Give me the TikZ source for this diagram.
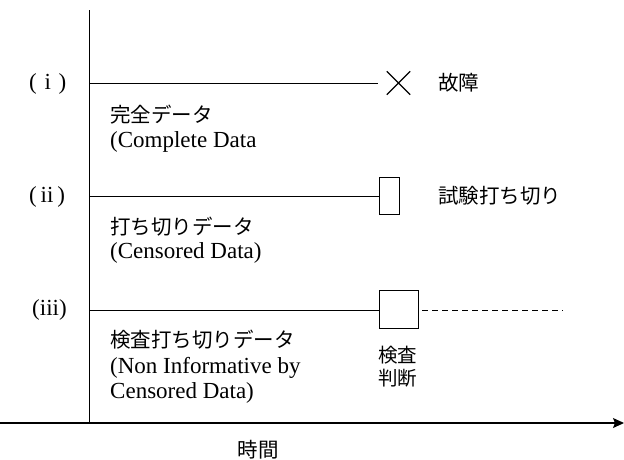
\documentclass[tikz,border=0pt]{standalone}
\usepackage{fontspec}
\setmainfont{Liberation Serif}
\newfontfamily\jp{Noto Sans CJK JP}
\usetikzlibrary{arrows.meta}
\begin{document}
\begin{tikzpicture}[x=1pt,y=-1pt,
  ln/.style={line width=0.9pt},
  lbl/.style={inner sep=0pt,anchor=west,font=\fontsize{23}{26}\selectfont},
  jlbl/.style={inner sep=0pt,anchor=west,font=\fontsize{20.5}{24}\selectfont\jp},
  box/.style={draw,line width=0.9pt,inner sep=0pt,fill=white}]
\useasboundingbox (0,0) rectangle (624,459);
% axes
\coordinate (o) at (89,423);
\coordinate (top) at (89,10);
\coordinate (xl) at (0,423);
\coordinate (xr) at (624,423);
\draw[ln] (o) -- (top);
\draw[line width=1.1pt,-{Stealth[length=11pt,width=10pt,inset=2pt]}] (xl) -- (xr);
% (i)
\node[lbl] (l1) at (29,84) {(\,\,i\,\,)};
\coordinate (s1) at (89,83);
\node[inner sep=0pt,minimum size=23pt] (x1) at (398.5,83) {};
\draw[ln] (s1) -- (378,83) coordinate (e1);
\draw[line width=1.1pt] (x1.north west) -- (x1.south east) (x1.north east) -- (x1.south west);
\node[jlbl] (f1) at (438,83) {故障};
\node[jlbl] (t1a) at (110,115) {完全データ};
\node[lbl] (t1b) at (110,142) {(Complete Data};
% (ii)
\node[lbl] (l2) at (29,197) {(\,ii\,)};
\coordinate (s2) at (89,196);
\node[box,minimum width=20pt,minimum height=37pt] (b2) at (389,196) {};
\draw[ln] (s2) -- (b2.west);
\node[jlbl] (f2) at (438,196) {試験打ち切り};
\node[jlbl] (t2a) at (110,227) {打ち切りデータ};
\node[lbl] (t2b) at (110,253) {(Censored Data)};
% (iii)
\node[lbl] (l3) at (32,310) {(iii)};
\coordinate (s3) at (89,310);
\node[box,minimum width=39pt,minimum height=38pt] (b3) at (398.5,309) {};
\draw[ln] (s3) -- (b3.west |- s3);
\coordinate (d3) at (563,310);
\draw[line width=0.6pt,dash pattern=on 6pt off 4pt] ([xshift=4pt]b3.east |- s3) -- (d3);
\node[jlbl] (t3a) at (110,340) {検査打ち切りデータ};
\node[lbl] (t3b) at (110,368) {(Non Informative by};
\node[lbl] (t3c) at (110,393) {Censored Data)};
\node[inner sep=0pt,align=left,anchor=north west,font=\fontsize{19.5}{23}\selectfont\jp] (k3) at (378,346) {検査\\判断};
% time
\node[jlbl,anchor=center] (time) at (258,450) {時間};
\end{tikzpicture}
\end{document}
